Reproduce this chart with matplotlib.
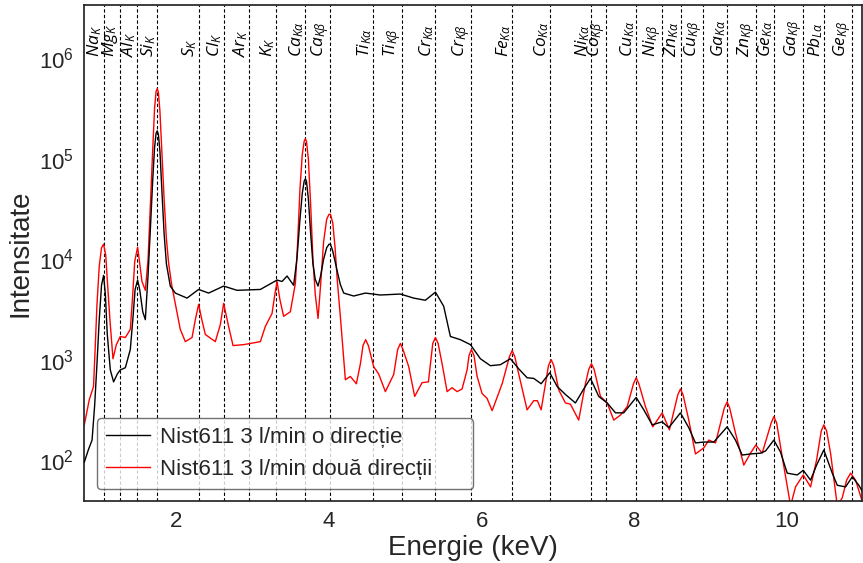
import numpy as np
import matplotlib
matplotlib.use("Agg")
import matplotlib.pyplot as plt

# date citite de pe spectru (energie in keV, intensitate in numar de impulsuri)
energie_o = [0.794, 0.847, 0.896, 0.930, 0.960, 0.990, 1.020, 1.047, 1.070, 1.095,
             1.135, 1.178, 1.227, 1.266, 1.332, 1.397, 1.430, 1.460, 1.493, 1.520,
             1.560, 1.594, 1.630, 1.660, 1.690, 1.715, 1.735, 1.750, 1.765, 1.785,
             1.810, 1.840, 1.870, 1.921, 1.987, 2.140, 2.292, 2.423, 2.620, 2.796,
             3.101, 3.320, 3.385, 3.451, 3.537, 3.580, 3.620, 3.650, 3.675, 3.690,
             3.705, 3.730, 3.760, 3.790, 3.820, 3.857, 3.890, 3.930, 3.970, 4.000,
             4.020, 4.050, 4.080, 4.110, 4.149, 4.193, 4.324, 4.477, 4.674, 4.936,
             5.110, 5.263, 5.395, 5.503, 5.591, 5.722, 5.853, 5.984, 6.115, 6.246,
             6.377, 6.486, 6.596, 6.683, 6.780, 6.893, 6.990, 7.098, 7.229, 7.338,
             7.426, 7.535, 7.645, 7.754, 7.862, 8.025, 8.125, 8.235, 8.366, 8.452,
             8.605, 8.714, 8.802, 8.911, 9.042, 9.217, 9.326, 9.414, 9.523, 9.654,
             9.720, 9.829, 9.916, 10.004, 10.135, 10.214, 10.310, 10.389, 10.484, 10.594,
             10.660, 10.769, 10.856, 10.943, 11.0]
intens_o = [95, 126, 158, 350, 900, 2500, 5500, 6900, 4500, 1800,
            790, 600, 720, 790, 830, 1260, 2500, 5000, 6200, 5000,
            3000, 2500, 7000, 20000, 60000, 130000, 180000, 190000, 175000, 120000,
            50000, 18000, 9000, 5400, 4600, 4100, 5000, 4600, 5400, 4900,
            5000, 6200, 6000, 6800, 5500, 10000, 25000, 45000, 60000, 63000,
            60000, 40000, 18000, 9000, 6300, 5400, 6800, 10000, 13000, 14100,
            14100, 12000, 9500, 7500, 5600, 4600, 4300, 4600, 4400, 4500,
            4100, 3900, 4700, 3400, 1700, 1580, 1410, 1020, 870, 890,
            1020, 810, 660, 650, 575, 740, 540, 450, 370, 510,
            650, 430, 370, 295, 295, 420, 316, 224, 240, 210,
            295, 210, 148, 151, 151, 214, 158, 112, 115, 117,
            123, 158, 120, 74, 71, 79, 63, 89, 126, 74,
            56, 54, 68, 56, 47]

energie_doua = [0.794, 0.860, 0.915, 0.935, 0.960, 0.990, 1.020, 1.047, 1.075, 1.100,
                1.130, 1.170, 1.214, 1.266, 1.332, 1.397, 1.425, 1.455, 1.493, 1.520,
                1.550, 1.594, 1.630, 1.660, 1.690, 1.715, 1.735, 1.750, 1.765, 1.785,
                1.810, 1.840, 1.870, 1.900, 1.940, 1.990, 2.052, 2.118, 2.206, 2.249,
                2.292, 2.334, 2.380, 2.511, 2.577, 2.620, 2.685, 2.743, 2.882, 3.101,
                3.166, 3.254, 3.291, 3.320, 3.356, 3.406, 3.494, 3.560, 3.590, 3.620,
                3.650, 3.675, 3.690, 3.705, 3.730, 3.760, 3.790, 3.820, 3.857, 3.890,
                3.930, 3.970, 4.000, 4.020, 4.050, 4.080, 4.110, 4.149, 4.215, 4.280,
                4.359, 4.412, 4.446, 4.481, 4.516, 4.586, 4.651, 4.739, 4.848, 4.900,
                4.936, 4.970, 5.045, 5.123, 5.220, 5.303, 5.360, 5.395, 5.430, 5.482,
                5.548, 5.613, 5.679, 5.744, 5.810, 5.835, 5.866, 5.900, 5.941, 6.006,
                6.072, 6.138, 6.269, 6.365, 6.400, 6.435, 6.486, 6.596, 6.683, 6.731,
                6.780, 6.876, 6.911, 6.946, 7.010, 7.098, 7.163, 7.272, 7.360, 7.404,
                7.439, 7.474, 7.557, 7.645, 7.731, 7.819, 7.907, 7.990, 8.025, 8.060,
                8.147, 8.243, 8.366, 8.461, 8.570, 8.605, 8.640, 8.714, 8.802, 8.911,
                8.977, 9.065, 9.180, 9.217, 9.250, 9.326, 9.435, 9.523, 9.592, 9.676,
                9.795, 9.829, 9.865, 9.939, 10.048, 10.113, 10.214, 10.310, 10.389, 10.450,
                10.484, 10.520, 10.572, 10.660, 10.725, 10.782, 10.834, 10.900, 11.005]
intens_doua = [224, 400, 540, 1200, 3500, 8500, 13000, 14100, 11000, 5500,
               2500, 1020, 1410, 1700, 1660, 2000, 4000, 9500, 13200, 9000,
               6000, 4900, 10000, 35000, 120000, 320000, 470000, 500000, 460000, 300000,
               120000, 40000, 16000, 9000, 5500, 3500, 2000, 1510, 1660, 2500,
               3550, 2500, 1780, 1510, 2240, 3630, 2140, 1380, 1410, 1510,
               2140, 2880, 4470, 6000, 4000, 2700, 3000, 5750, 15000, 50000,
               110000, 150000, 158000, 150000, 100000, 35000, 10000, 4500, 2570, 5500,
               15000, 25000, 28000, 28000, 23000, 13000, 6000, 2700, 630, 680,
               575, 910, 1380, 1580, 1380, 850, 720, 480, 710, 1260,
               1450, 1260, 850, 430, 590, 600, 1450, 1660, 1450, 910,
               480, 525, 480, 510, 790, 1100, 1260, 1100, 680, 460,
               410, 310, 575, 1070, 1230, 1070, 720, 316, 390, 390,
               316, 870, 1000, 870, 500, 370, 360, 250, 575, 800,
               910, 800, 430, 370, 250, 280, 340, 575, 660, 575,
               340, 214, 295, 200, 445, 510, 445, 250, 115, 132,
               158, 148, 330, 380, 330, 186, 89, 117, 141, 117,
               235, 270, 235, 107, 35, 54, 71, 54, 100, 195,
               224, 195, 117, 35, 42, 63, 74, 63, 35]

# liniile elementelor
linii_energie = [1.047, 1.256, 1.484, 1.746, 2.293, 2.621, 2.949, 3.311, 3.691, 4.018,
                 4.575, 4.958, 5.394, 5.866, 6.400, 6.893, 7.439, 7.627, 8.025, 8.361,
                 8.606, 8.898, 9.217, 9.592, 9.828, 10.213, 10.483, 10.855]
linii_nume = [r'$Na_{K}$', r'$Mg_{K}$', r'$Al_{K}$', r'$Si_{K}$', r'$S_{K}$', r'$Cl_{K}$',
              r'$Ar_{K}$', r'$K_{K}$', r'$Ca_{K\alpha}$', r'$Ca_{K\beta}$', r'$Ti_{K\alpha}$',
              r'$Ti_{K\beta}$', r'$Cr_{K\alpha}$', r'$Cr_{K\beta}$', r'$Fe_{K\alpha}$',
              r'$Co_{K\alpha}$', r'$Ni_{K\alpha}$', r'$Co_{K\beta}$', r'$Cu_{K\alpha}$',
              r'$Ni_{K\beta}$', r'$Zn_{K\alpha}$', r'$Cu_{K\beta}$', r'$Ga_{K\alpha}$',
              r'$Zn_{K\beta}$', r'$Ge_{K\alpha}$', r'$Ga_{K\beta}$', r'$Pb_{L\alpha}$',
              r'$Ge_{K\beta}$']

plt.rcParams['font.family'] = ['Liberation Sans', 'DejaVu Sans']
plt.rcParams['mathtext.fontset'] = 'custom'
plt.rcParams['mathtext.rm'] = 'Liberation Sans'
plt.rcParams['mathtext.it'] = 'Open Sans:italic'
plt.rcParams['text.color'] = '.15'
plt.rcParams['axes.labelcolor'] = '.15'
plt.rcParams['xtick.color'] = '.15'
plt.rcParams['ytick.color'] = '.15'

fig, ax = plt.subplots(figsize=(8.63, 5.63), dpi=100)
fig.subplots_adjust(left=0.0973, right=0.9985, bottom=0.110, top=0.991)

for e, nume in zip(linii_energie, linii_nume):
    ax.axvline(e, color='k', lw=0.8, ls=(0, (3, 2)), zorder=1)
    ax.text(e + 0.01, 0.895, nume, rotation=90, ha='right', va='bottom',
            fontsize=12.5, color='k', transform=ax.get_xaxis_transform())

ax.plot(energie_o, intens_o, color='k', lw=1, label='Nist611 3 l/min o direcție', zorder=3)
ax.plot(energie_doua, intens_doua, color='red', lw=1, label='Nist611 3 l/min două direcții', zorder=2)

ax.set_yscale('log')
ax.set_xlim(0.79, 10.98)
ax.set_ylim(39, 3.4e6)
ax.set_xticks([2, 4, 6, 8, 10])
ax.yaxis.set_minor_locator(matplotlib.ticker.NullLocator())
ax.tick_params(length=0, labelsize=16, pad=7)
for s in ax.spines.values():
    s.set_color('.15')
    s.set_linewidth(1.25)

ax.set_xlabel('Energie (keV)', fontsize=20, labelpad=2)
ax.set_ylabel('Intensitate', fontsize=20, labelpad=4)

leg = ax.legend(loc='lower left', fontsize=16, bbox_to_anchor=(0.0163, 0.024, 0.484, 0.137),
                mode='expand', borderaxespad=0, edgecolor='.3', framealpha=0.8,
                handlelength=2.0, handletextpad=0.45)
leg.get_frame().set_linewidth(1)

plt.savefig('out.png', dpi=100)
